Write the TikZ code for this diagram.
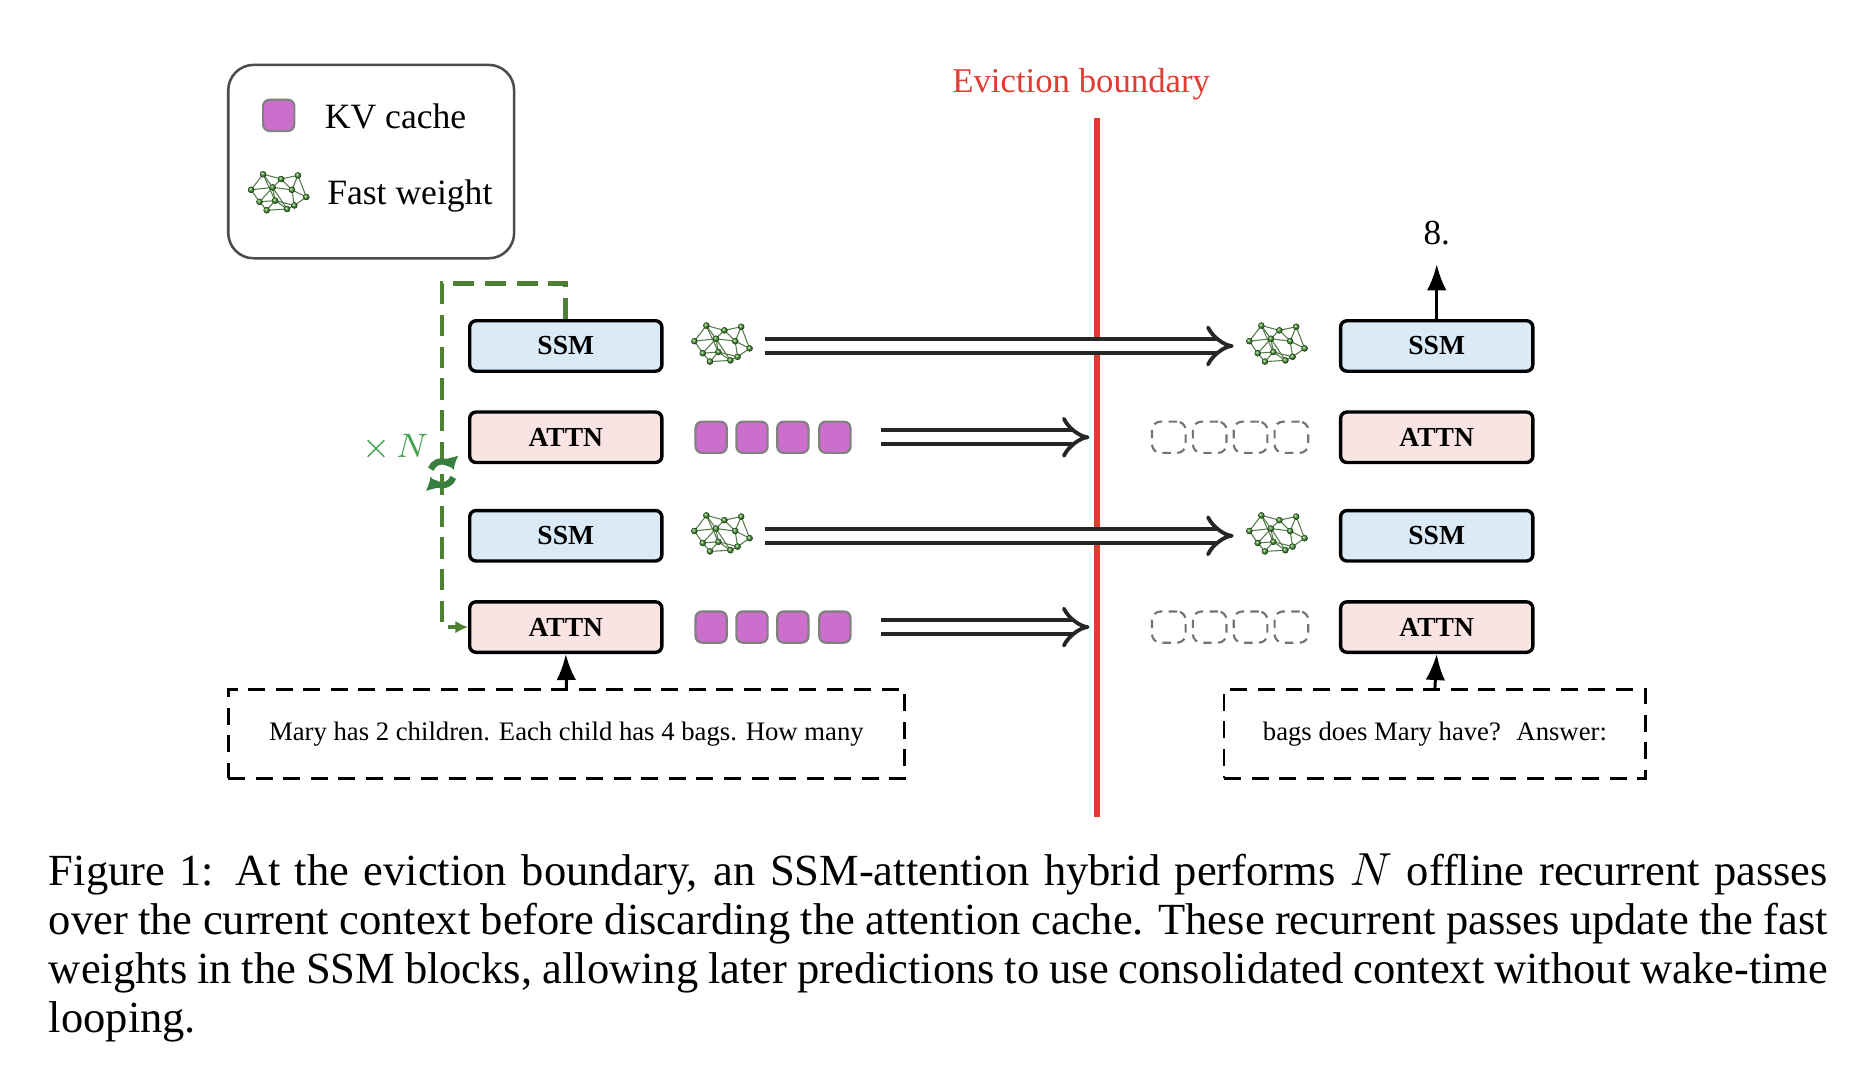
\documentclass[tikz,border=0pt]{standalone}
\usepackage{fontspec}
\setmainfont{Liberation Serif}
\usetikzlibrary{arrows.meta,positioning}
\definecolor{ssmblue}{RGB}{218,234,246}
\definecolor{attnpink}{RGB}{249,228,228}
\definecolor{kvpurple}{RGB}{204,110,204}
\definecolor{loopgreen}{RGB}{78,128,52}
\definecolor{netgreen}{RGB}{70,150,50}
\definecolor{evictred}{RGB}{222,62,50}
\definecolor{xngreen}{RGB}{70,160,80}

\tikzset{
  fastw/.pic={
    \foreach \px/\py [count=\i] in {-22/-4,-12/-17,-4/-6,3/-13,12/-4,17/-16,24/2,8/12,-9/13,-15/6,-2/5,14/9}
      \coordinate (-n\i) at (\px,\py);
    \foreach \a/\b in {1/2,1/3,1/10,2/3,2/4,3/4,3/5,4/5,4/6,5/6,5/7,6/7,7/12,12/8,8/9,9/10,10/11,11/3,11/8,11/12,9/11,10/3,5/12,2/11,8/3}
      \draw[netgreen!60!black!80, line width=0.25pt] (-n\a) -- (-n\b);
    \foreach \i in {1,...,12}
      \fill[ball color=netgreen] (-n\i) circle (2.6);
  },
  block/.style={draw, line width=0.8pt, rounded corners=1.5pt, font=\fontsize{6.5}{7}\selectfont\bfseries},
  ssm/.style={block, fill=ssmblue, text width=160*0.2835pt, minimum height=42*0.2835pt, align=center, inner sep=0pt},
  attn/.style={ssm, fill=attnpink},
  kv/.style={draw=black!50, fill=kvpurple, line width=0.5pt, rounded corners=1.5pt, minimum size=26*0.2835pt, inner sep=0pt},
  kvgone/.style={draw=black!55, dashed, dash pattern=on 2pt off 1.5pt, line width=0.5pt, rounded corners=2pt, minimum width=28*0.2835pt, minimum height=26*0.2835pt, inner sep=0pt},
  fat/.style={draw=black!85, line width=0.9pt, double=white, double distance=2.4pt, -{Implies}},
  inbox/.style={draw, dashed, dash pattern=on 4pt off 2.5pt, line width=0.6pt, inner sep=0pt, font=\fontsize{6.3}{7}\selectfont},
}

\begin{document}
\begin{tikzpicture}[x=0.2835pt, y=-0.2835pt, >=Latex]
\useasboundingbox (0,0) rectangle (1560,899);

% legend
\node[draw=black!70, line width=0.6pt, rounded corners=6pt, minimum width=238*0.2835pt, minimum height=161*0.2835pt] (legend) at (309,134.5) {};
\node[kv] (kvkey) at (232,96) {};
\node[anchor=west, font=\fontsize{8.4}{9}\selectfont] (kvtext) at (258,97) {KV cache};
\pic at (231,162) {fastw};
\node[anchor=west, font=\fontsize{8.4}{9}\selectfont] (fwtext) at (260,163) {Fast weight};

% eviction boundary
\coordinate (evtop) at (913,98);
\coordinate (evbot) at (913,680);
\draw[evictred, line width=1.3pt] (evtop) -- (evbot);
\node[evictred, font=\fontsize{8.2}{9}\selectfont] (evlabel) at (900,70) {Eviction boundary};

% left stack
\node[ssm] (lssma) at (471,288) {SSM};
\node[attn] (lattna) at (471,364) {ATTN};
\node[ssm] (lssmb) at (471,446) {SSM};
\node[attn] (lattnb) at (471,522) {ATTN};

% right stack
\node[ssm] (rssma) at (1196,288) {SSM};
\node[attn] (rattna) at (1196,364) {ATTN};
\node[ssm] (rssmb) at (1196,446) {SSM};
\node[attn] (rattnb) at (1196,522) {ATTN};

% fast weights
\pic at (600,288) {fastw};
\pic at (600,446) {fastw};
\pic at (1062,288) {fastw};
\pic at (1062,446) {fastw};

% kv caches
\foreach \r in {364,522}{
  \foreach \x in {592,626,660,695}
    \node[kv] at (\x,\r) {};
  \foreach \x in {973,1007,1041,1075}
    \node[kvgone] at (\x,\r) {};
}

% carry-over arrows
\coordinate (sa1) at (637,288); \coordinate (sa2) at (1027,288);
\coordinate (sb1) at (637,446); \coordinate (sb2) at (1027,446);
\coordinate (aa1) at (733,364); \coordinate (aa2) at (907,364);
\coordinate (ab1) at (733,522); \coordinate (ab2) at (907,522);
\draw[fat] (sa1) -- (sa2);
\draw[fat] (sb1) -- (sb2);
\draw[fat] (aa1) -- (aa2);
\draw[fat] (ab1) -- (ab2);

% recurrent loop
\coordinate (lpa) at (471,236);
\coordinate (lpb) at (368,236);
\draw[loopgreen, line width=1.1pt, dash pattern=on 5pt off 2.5pt, -{Latex[length=3pt,width=3pt]}] (lssma.north) -- (lpa) -- (lpb) |- (lattnb.west);
\coordinate (loopc) at (368,394);
\draw[xngreen!80!black, line width=1.5pt, -{Latex[length=3pt,width=4pt]}] ([shift={(20:10)}]loopc) arc (20:165:10);
\draw[xngreen!80!black, line width=1.5pt, -{Latex[length=3pt,width=4pt]}] ([shift={(200:10)}]loopc) arc (200:345:10);
\node[xngreen, font=\fontsize{8.3}{9}\selectfont] (times) at (329,373) {$\times\,N$};

% inputs
\node[inbox, minimum width=563*0.2835pt, minimum height=74*0.2835pt] (inleft) at (471.5,611) {Mary has 2 children. Each child has 4 bags. How many};
\node[inbox, minimum width=351*0.2835pt, minimum height=74*0.2835pt] (inright) at (1194.5,611) {bags does Mary have?~ Answer:};
\draw[->, line width=0.7pt] (inleft.north) -- (lattnb.south);
\draw[->, line width=0.7pt] (inright.north) -- (rattnb.south);

% output
\node[font=\fontsize{8.3}{9}\selectfont] (answer) at (1196,194) {8.};
\coordinate (outtop) at (1196,220);
\draw[->, line width=0.7pt] (rssma.north) -- (outtop);

% caption
\node[anchor=north west, inner sep=0pt, text width=1481*0.2835pt, align=justify,
  font=\fontsize{10.5}{11.6}\selectfont] (caption) at (40,710)
  {Figure 1: At the eviction boundary, an SSM-attention hybrid performs $N$ offline recurrent passes\linebreak
   over the current context before discarding the attention cache. These recurrent passes update the fast\linebreak
   weights in the SSM blocks, allowing later predictions to use consolidated context without wake-time\linebreak
   looping.};
\end{tikzpicture}
\end{document}
